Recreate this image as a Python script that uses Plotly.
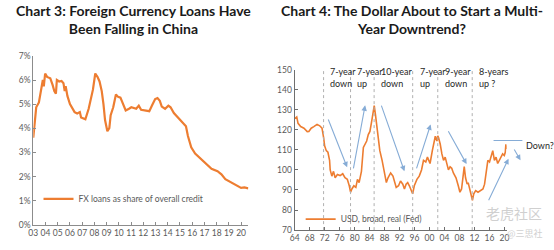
import plotly.graph_objects as go

W, H = 554, 250

# ---------------- Chart 3 data: FX loans as share of overall credit ----------------
fx_years = [2003.00, 2003.24, 2003.46, 2003.64, 2003.78, 2003.86, 2003.97, 2004.13, 2004.39,
            2004.58, 2004.72, 2004.85, 2004.93, 2005.12, 2005.31, 2005.47, 2005.57, 2005.65,
            2005.79, 2006.00, 2006.19, 2006.38, 2006.59, 2006.81, 2006.91, 2007.13, 2007.26,
            2007.53, 2007.72, 2007.88, 2008.07, 2008.25, 2008.42, 2008.60, 2008.74, 2008.87,
            2009.06, 2009.22, 2009.33, 2009.54, 2009.76, 2009.94, 2010.13, 2010.35, 2010.56,
            2010.83, 2011.02, 2011.42, 2011.63, 2011.82, 2012.09, 2012.36, 2012.49, 2012.71,
            2012.97, 2013.16, 2013.35, 2013.51, 2013.78, 2014.05, 2014.23, 2014.50, 2014.90,
            2015.31, 2015.49, 2015.65, 2015.92, 2016.24, 2016.65, 2017.05, 2017.58, 2018.07,
            2018.39, 2018.71, 2019.19, 2019.59, 2020.00, 2020.27, 2020.59]
fx_share = [3.61, 4.87, 5.07, 5.67, 6.00, 5.74, 6.27, 6.13, 6.07,
            5.80, 5.54, 5.43, 6.00, 5.94, 5.96, 5.87, 5.54, 5.74,
            5.34, 5.00, 4.81, 4.67, 4.61, 4.67, 4.45, 4.41, 4.37,
            4.81, 5.21, 5.60, 6.27, 6.13, 5.94, 5.54, 5.00, 4.34,
            3.88, 4.01, 4.54, 4.87, 5.40, 5.30, 5.27, 5.00, 4.74,
            4.81, 4.87, 4.81, 4.94, 4.77, 4.74, 4.71, 4.71, 4.94,
            5.21, 5.25, 5.14, 4.90, 4.81, 4.94, 4.87, 4.63, 4.41,
            4.21, 4.08, 3.68, 3.21, 2.95, 2.75, 2.55, 2.32, 2.22,
            2.09, 1.89, 1.75, 1.62, 1.53, 1.55, 1.51]
fx_ticks = list(range(2003, 2021))
fx_ticklabels = ["%02d" % (y % 100) for y in fx_ticks]
pct_ticks = [0, 1, 2, 3, 4, 5, 6, 7]
pct_ticklabels = ["%d%%" % p for p in pct_ticks]

# ---------------- Chart 4 data: USD broad real index (Fed) ----------------
usd_years = [1964.00, 1964.53, 1964.88, 1965.58, 1966.46, 1967.33, 1967.77, 1968.39, 1969.09,
             1969.96, 1970.67, 1971.28, 1971.72, 1971.98, 1972.42, 1972.86, 1973.30, 1973.47,
             1973.91, 1974.35, 1974.79, 1975.40, 1976.11, 1976.81, 1977.42, 1978.04, 1978.56,
             1978.91, 1979.26, 1979.79, 1980.32, 1980.75, 1981.19, 1981.81, 1982.33, 1982.77,
             1983.21, 1983.64, 1984.08, 1984.52, 1984.96, 1985.23, 1985.58, 1985.93, 1986.28,
             1986.72, 1987.33, 1988.03, 1988.47, 1988.91, 1989.61, 1990.23, 1990.67, 1991.10,
             1991.72, 1992.25, 1992.86, 1993.30, 1993.74, 1994.17, 1994.61, 1995.05, 1995.49,
             1995.93, 1996.63, 1997.25, 1997.86, 1998.39, 1999.00, 1999.44, 2000.14, 2000.75,
             2001.11, 2001.54, 2001.98, 2002.20, 2002.42, 2002.86, 2003.30, 2003.74, 2004.18,
             2004.61, 2005.05, 2005.49, 2005.93, 2006.37, 2007.07, 2007.68, 2008.12, 2008.56,
             2009.00, 2009.27, 2009.62, 2010.05, 2010.32, 2010.75, 2011.11, 2011.46, 2011.81,
             2012.33, 2012.95, 2013.56, 2014.27, 2014.70, 2015.14, 2015.58, 2016.02, 2016.46,
             2016.89, 2017.33, 2017.77, 2018.21, 2018.65, 2019.09, 2019.53, 2019.97, 2020.23,
             2020.40, 2020.58]
usd_index = [125.6, 126.4, 123.2, 121.6, 120.8, 119.1, 119.2, 120.8, 121.6,
             122.7, 122.0, 120.8, 116.0, 112.0, 109.6, 108.8, 104.8, 100.0,
             96.9, 99.3, 96.1, 97.7, 97.2, 98.1, 96.1, 95.3, 92.1,
             88.9, 90.5, 92.1, 91.3, 95.3, 93.7, 99.3, 111.2, 112.8,
             114.4, 117.6, 119.2, 124.0, 129.6, 132.0, 127.2, 120.8, 116.0,
             109.6, 104.8, 98.5, 93.7, 96.1, 98.5, 96.9, 93.7, 91.3,
             92.1, 94.5, 92.9, 90.5, 92.9, 93.7, 92.1, 90.5, 88.1,
             92.1, 95.3, 96.9, 100.0, 104.8, 104.0, 106.4, 103.2, 109.6,
             114.0, 116.8, 114.4, 117.0, 116.0, 112.8, 108.0, 104.8, 106.4,
             102.4, 100.0, 101.6, 100.8, 98.5, 96.1, 92.1, 88.9, 90.5,
             98.5, 101.6, 96.1, 92.9, 93.7, 90.5, 88.9, 84.9, 88.1,
             89.7, 88.9, 89.7, 90.5, 92.9, 100.0, 104.8, 104.0, 107.2,
             109.6, 104.8, 106.4, 103.2, 104.8, 107.2, 108.0, 107.2, 108.8,
             112.8, 110.4]
usd_ticks = list(range(1964, 2021, 4))
usd_ticklabels = ["%02d" % (y % 100) for y in usd_ticks]

# regime boundaries and labels
regime_breaks = [1971.7, 1978.9, 1985.2, 1995.5, 2002.2, 2011.4]
regime_labels = ["7-year<br>down", "7-year<br>up", "10-year<br>down",
                 "7-year<br>up", "9-year<br>down", "8-years<br>up ?"]

# ---------------- layout geometry (pixels) ----------------
L_X0, L_X1, L_Y0, L_Y1 = 28.7, 247.0, 229.0, 53.0
R_X0, R_X1, R_Y0, R_Y1 = 294.0, 509.0, 234.5, 67.3
L_RANGE = [2003.0, 2020.6]
R_RANGE = [1964.0, 2020.6]
R3_END = R_RANGE[0] + (R_RANGE[1] - R_RANGE[0]) * (W - R_X0) / (R_X1 - R_X0)

ORANGE = "#ED7D31"
TICKC = "#595959"
AXC = "#8c8c8c"
ARROW = "#86acd6"
FONT = "Lato"

fig = go.Figure()
# empty helper trace so the wide annotation axis (x3) exists (drawn first, below)
fig.add_trace(go.Scatter(x=[], y=[], xaxis="x3", yaxis="y2", showlegend=False,
                         hoverinfo="skip"))
fig.add_trace(go.Scatter(x=fx_years, y=fx_share, mode="lines",
                         line=dict(color=ORANGE, width=2.2),
                         name="FX loans as share of overall credit",
                         xaxis="x", yaxis="y", legend="legend"))
fig.add_trace(go.Scatter(x=usd_years, y=usd_index, mode="lines",
                         line=dict(color=ORANGE, width=1.6),
                         name="USD, broad, real (Fed)",
                         xaxis="x2", yaxis="y2", legend="legend2"))

tickfont = dict(family=FONT, size=8.5, color=TICKC)
fig.update_layout(
    width=W, height=H, margin=dict(l=0, r=0, t=0, b=0),
    paper_bgcolor="white", plot_bgcolor="rgba(0,0,0,0)",
    font=dict(family=FONT),
    xaxis=dict(domain=[L_X0 / W, L_X1 / W], range=L_RANGE, tickvals=fx_ticks,
               ticktext=fx_ticklabels, showgrid=False, zeroline=False,
               showline=True, linecolor=AXC, linewidth=1, ticks="inside",
               ticklen=3, tickcolor=AXC, tickfont=tickfont, anchor="y"),
    yaxis=dict(domain=[1 - L_Y0 / H, 1 - L_Y1 / H], range=[0, 7], tickvals=pct_ticks,
               ticktext=pct_ticklabels, showgrid=False, zeroline=False, showline=True,
               linecolor=AXC, linewidth=1, ticks="inside", ticklen=3, tickcolor=AXC,
               tickfont=tickfont, anchor="x"),
    xaxis2=dict(domain=[R_X0 / W, R_X1 / W], range=R_RANGE, tickvals=usd_ticks,
                ticktext=usd_ticklabels, showgrid=False, zeroline=False,
                showline=True, linecolor="#6f6f6f", linewidth=1, ticks="inside",
                ticklen=3, tickcolor="#6f6f6f", tickfont=tickfont, anchor="y2"),
    yaxis2=dict(domain=[1 - R_Y0 / H, 1 - R_Y1 / H], range=[70, 150], dtick=10,
                showgrid=False, zeroline=False, showline=True, linecolor="#6f6f6f",
                linewidth=1.3, ticks="inside", ticklen=3, tickcolor="#6f6f6f",
                tickfont=tickfont, anchor="x2"),
    xaxis3=dict(domain=[R_X0 / W, 1.0], range=[R_RANGE[0], R3_END], visible=False,
                showgrid=False, zeroline=False, anchor="y2"),
    legend=dict(x=(74 - 40) / W, y=1 - 202 / H, xanchor="left", yanchor="middle",
                bgcolor="rgba(0,0,0,0)", font=dict(family=FONT, size=8.5, color=TICKC)),
    legend2=dict(x=(340 - 40) / W, y=1 - 223 / H, xanchor="left", yanchor="middle",
                 bgcolor="rgba(0,0,0,0)", font=dict(family=FONT, size=8.5, color=TICKC)),
    showlegend=True,
)

anns = []
# titles
anns.append(dict(text="<b>Chart 3: Foreign Currency Loans Have<br>Been Falling in China</b>",
                 x=130 / W, y=1 - 15.5 / H, xref="paper", yref="paper", xanchor="center",
                 yanchor="middle", showarrow=False,
                 font=dict(family=FONT, size=14, color="#1a1a1a")))
anns.append(dict(text="<b>Chart 4: The Dollar About to Start a Multi-<br>Year Downtrend?</b>",
                 x=413 / W, y=1 - 15.5 / H, xref="paper", yref="paper", xanchor="center",
                 yanchor="middle", showarrow=False,
                 font=dict(family=FONT, size=14, color="#1a1a1a")))

# regime boundaries and labels
shapes = []
for yr in regime_breaks:
    shapes.append(dict(type="line", xref="x2", yref="y2 domain", x0=yr, x1=yr, y0=0, y1=1,
                       line=dict(color="#b0b0b0", width=1, dash="dot")))
for yr, lab in zip(regime_breaks, regime_labels):
    anns.append(dict(text=lab, x=yr + 1.3, y=146, xref="x2", yref="y2", xanchor="left",
                     yanchor="middle", align="left", showarrow=False,
                     font=dict(family=FONT, size=9, color="#262626")))

# trend arrows (head x, head y, tail x, tail y, head style)
arrows = [
    (1978.0, 101.3, 1972.8, 125.9, 2),
    (1982.8, 132.2, 1979.6, 100.0, 2),
    (1993.3, 99.3, 1987.0, 132.8, 2),
    (2000.3, 122.7, 1996.4, 100.0, 2),
    (2009.9, 102.9, 2004.8, 120.0, 2),
    (2021.1, 105.6, 2015.6, 84.1, 2),
    (2024.3, 104.8, 2022.4, 110.9, 2),
    (2024.8, 114.7, 2016.7, 114.7, 0),
]
for hx, hy, tx, ty, head in arrows:
    anns.append(dict(text="", x=hx, y=hy, ax=tx, ay=ty, xref="x3", yref="y2",
                     axref="x3", ayref="y2", showarrow=True, arrowhead=head,
                     arrowsize=1, arrowwidth=1.1, arrowcolor=ARROW, standoff=0))
anns.append(dict(text="Down?", x=2025.3, y=112, xref="x3", yref="y2", xanchor="left",
                 yanchor="middle", showarrow=False,
                 font=dict(family=FONT, size=9, color="#262626")))

# watermark
anns.append(dict(text="老虎社区", x=516 / W, y=1 - 217 / H, xref="paper", yref="paper",
                 xanchor="center", yanchor="middle", showarrow=False,
                 font=dict(family="Noto Sans CJK SC", size=14, color="#d0d0d0")))
anns.append(dict(text="@三思社", x=528 / W, y=1 - 238 / H, xref="paper", yref="paper",
                 xanchor="center", yanchor="middle", showarrow=False,
                 font=dict(family="Noto Sans CJK SC", size=9, color="#d0d0d0")))

fig.update_layout(annotations=anns, shapes=shapes)
fig.write_html("out.html")
